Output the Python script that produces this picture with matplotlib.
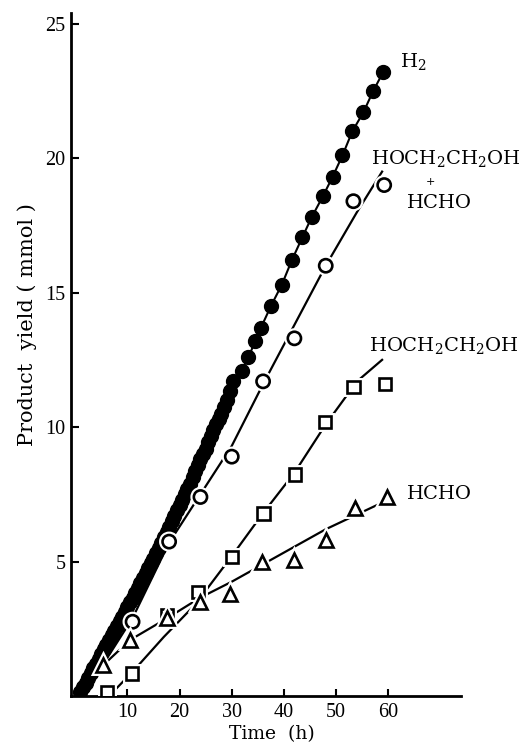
import matplotlib
matplotlib.use("Agg")
import matplotlib.pyplot as plt
import matplotlib.patheffects as pe

plt.rcParams['font.family'] = ['Liberation Serif', 'DejaVu Serif']
plt.rcParams['mathtext.fontset'] = 'custom'
plt.rcParams['mathtext.rm'] = 'DejaVu Serif'
plt.rcParams['mathtext.it'] = 'DejaVu Serif'

# H2 (filled circles), dense sampling early on
h2_t = [1, 1.5, 2, 2.5, 3, 3.5, 4, 4.5, 5, 5.5, 6, 6.5, 7, 7.5, 8, 8.5, 9, 9.5,
        10, 10.5, 11, 11.5, 12, 12.5, 13, 13.5, 14, 14.5, 15, 15.5, 16, 16.5,
        17, 17.5, 18, 18.5, 19, 19.5, 20, 20.5, 21, 21.5, 22, 22.5, 23, 23.5,
        24, 24.5, 25, 25.5, 26, 26.5, 27, 27.5, 28, 28.5, 29, 29.6,
        30.3, 31.9, 33.2, 34.5, 35.6, 37.5, 39.6, 41.5, 43.5, 45.3, 47.5, 49.3,
        51.2, 53.1, 55.2, 57.1, 59.0]
h2_v = [0.15, 0.33, 0.5, 0.68, 0.85, 1.03, 1.2, 1.38, 1.55, 1.73, 1.9, 2.08,
        2.25, 2.43, 2.6, 2.78, 2.95, 3.13, 3.3, 3.48, 3.65, 3.83, 4.0, 4.2, 4.4,
        4.58, 4.75, 4.93, 5.1, 5.3, 5.5, 5.7, 5.9, 6.1, 6.3, 6.5, 6.7, 6.9, 7.1,
        7.3, 7.5, 7.7, 7.9, 8.13, 8.35, 8.58, 8.8, 9.0, 9.2, 9.43, 9.65, 9.88,
        10.1, 10.3, 10.5, 10.75, 11.0, 11.35,
        11.7, 12.1, 12.6, 13.2, 13.7, 14.5, 15.3, 16.2, 17.05, 17.8, 18.6, 19.3,
        20.1, 21.0, 21.7, 22.5, 23.2]

# sampled products
t_pts = [11, 18, 24, 30, 36, 42, 48, 53.3, 59.2]
sum_v = [2.76, 5.74, 7.4, 8.9, 11.7, 13.3, 16.0, 18.4, 19.0]
t_sq = [6.1, 10.9, 17.6, 23.6, 30, 36.1, 42.1, 47.8, 53.3, 59.4]
eg_v = [0.16, 0.84, 3.01, 3.88, 5.18, 6.79, 8.24, 10.18, 11.48, 11.6]
t_tri = [5.4, 10.5, 17.6, 23.9, 29.7, 35.8, 42.0, 48.1, 53.6, 59.7]
fa_v = [1.15, 2.08, 2.89, 3.5, 3.79, 4.99, 5.06, 5.8, 6.98, 7.41]

# hand-drawn curves
sum_line_t = [1.5, 11, 18, 24, 30, 36, 42, 48, 54, 58.8]
sum_line_v = [0, 2.9, 5.7, 7.5, 9.3, 11.6, 13.8, 16.0, 18.0, 19.5]
eg_line_t = [6.5, 11, 17, 23, 30, 36, 42, 48, 54, 58.8]
eg_line_v = [0, 0.9, 2.2, 3.4, 5.2, 6.8, 8.3, 10.1, 11.7, 12.5]
fa_line_t = [1, 5.4, 10.5, 17.6, 23.9, 30, 36, 42, 48, 54, 60]
fa_line_v = [0, 1.15, 2.08, 2.89, 3.65, 4.25, 4.9, 5.55, 6.2, 6.75, 7.3]

fig = plt.figure(figsize=(5.22, 7.45), dpi=100)
ax = fig.add_axes([0.136, 0.0658, 0.747, 0.9168])

halo = [pe.Stroke(linewidth=5, foreground='white'), pe.Normal()]

ax.plot(h2_t, h2_v, '-', color='black', lw=1.5)
ax.plot(h2_t, h2_v, 'o', color='black', ms=10)

ax.plot(sum_line_t, sum_line_v, '-', color='black', lw=1.6)
ax.plot(eg_line_t, eg_line_v, '-', color='black', lw=1.6)
ax.plot(fa_line_t, fa_line_v, '-', color='black', lw=1.6)

ax.plot(t_pts, sum_v, 'o', mfc='white', mec='black', mew=1.9, ms=9.5,
        path_effects=halo, zorder=5)
ax.plot(t_sq, eg_v, 's', mfc='white', mec='black', mew=1.9, ms=8.8,
        path_effects=halo, zorder=5)
ax.plot(t_tri, fa_v, '^', mfc='white', mec='black', mew=1.9, ms=10,
        path_effects=halo, zorder=6)

ax.set_xlim(-0.8, 73.9)
ax.set_ylim(0, 25.4)
ax.set_xticks([10, 20, 30, 40, 50, 60])
ax.set_yticks([5, 10, 15, 20, 25])
ax.tick_params(axis='x', direction='in', length=5, width=1.5, labelsize=14.5, pad=5)
ax.tick_params(axis='y', direction='in', length=6, width=1.5, labelsize=14.5, pad=4)
for s in ['top', 'right']:
    ax.spines[s].set_visible(False)
for s in ['left', 'bottom']:
    ax.spines[s].set_linewidth(2)

lab = dict(family='DejaVu Serif', fontsize=14)
fig.text(0.52, 0.0145, 'Time  (h)', ha='center', va='center',
         family='DejaVu Serif', fontsize=13.5)
fig.text(0.052, 0.565, 'Product  yield ( mmol )', rotation=90,
         ha='center', va='center', family='DejaVu Serif', fontsize=15)

ax.text(62.3, 23.6, r'H$_2$', ha='left', va='center', **lab)
ax.text(56.6, 20.0, r'HOCH$_2$CH$_2$OH', ha='left', va='center', **lab)
ax.text(68.0, 19.1, '+', family='DejaVu Serif', fontsize=8,
        ha='center', va='center')
ax.text(63.6, 18.35, 'HCHO', ha='left', va='center', **lab)
ax.text(56.2, 13.05, r'HOCH$_2$CH$_2$OH', ha='left', va='center', **lab)
ax.text(63.5, 7.5, 'HCHO', ha='left', va='center', **lab)

fig.savefig('out.png', dpi=100)
